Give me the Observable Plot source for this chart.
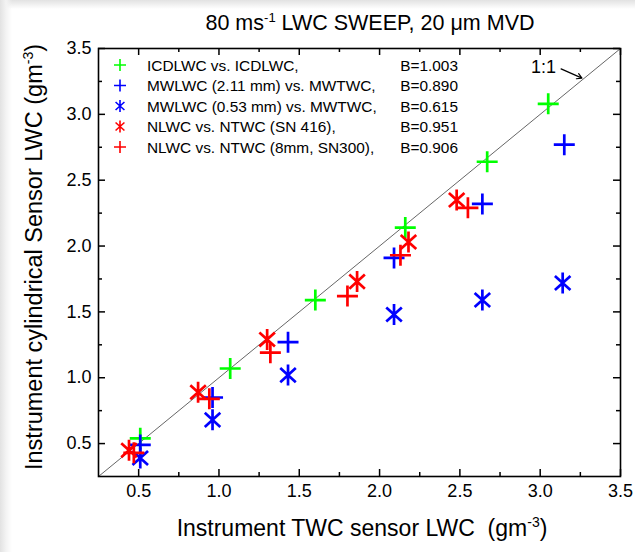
<!DOCTYPE html>
<html><head><meta charset="utf-8">
<script src="https://cdn.jsdelivr.net/npm/d3@7"></script>
<script src="https://cdn.jsdelivr.net/npm/@observablehq/plot@0.6"></script>
<style>
body{margin:0;background:#fff;}
#wrap{position:relative;width:635px;height:552px;overflow:hidden;background:
 linear-gradient(to right, #e2e2e2 0px, #f3f3f3 6px, rgba(255,255,255,0) 12px),
 linear-gradient(to bottom, #e2e2e2 0px, rgba(255,255,255,0) 9px), #fff;}
svg{font-family:"Liberation Sans", Arial, sans-serif;}
</style></head><body><div id="wrap"></div>
<script>
// ---- data ----
const icdX  = [0.51, 1.07, 1.60, 2.16, 2.67, 3.05];
const icdY  = [0.54, 1.07, 1.59, 2.14, 2.64, 3.08];
const mw211X = [0.51, 0.96, 1.43, 2.09, 2.64, 3.15];
const mw211Y = [0.49, 0.85, 1.27, 1.91, 2.32, 2.77];
const mw053X = [0.51, 0.96, 1.43, 2.09, 2.64, 3.14];
const mw053Y = [0.39, 0.68, 1.02, 1.48, 1.59, 1.72];
const n416X = [0.44, 0.87, 1.30, 1.86, 2.18, 2.48];
const n416Y = [0.45, 0.89, 1.29, 1.73, 2.03, 2.35];
const n300X = [0.47, 0.94, 1.32, 1.80, 2.13, 2.55];
const n300Y = [0.43, 0.84, 1.19, 1.62, 1.93, 2.29];

const seriesNames = ["ICDLWC vs. ICDLWC,", "MWLWC (2.11 mm) vs. MWTWC,", "MWLWC (0.53 mm) vs. MWTWC,", "NLWC vs. NTWC (SN 416),", "NLWC vs. NTWC (8mm, SN300),"];
const seriesB = ["B=1.003", "B=0.890", "B=0.615", "B=0.951", "B=0.906"];
const seriesColors = ["#00ff00", "#0000ff", "#0000ff", "#ff0000", "#ff0000"];
const seriesSymbols = ["plus", "plus", "star", "star", "plus"];

const majorTicks = [0.5, 1.0, 1.5, 2.0, 2.5, 3.0, 3.5];
const minorTicks = [0.75, 1.25, 1.75, 2.25, 2.75, 3.25];
const domain = [0.25, 3.5];
const diagonal = [0.25, 3.5];
const oneToOneLabel = {x: 3.02, y: 3.36, text: "1:1"};
const oneToOneArrow = {x1: 3.13, y1: 3.345, x2: 3.26, y2: 3.275};

// ---- symbols ----
const plusSym = {draw(ctx, size){ const r = Math.sqrt(size/Math.PI); ctx.moveTo(-r,0); ctx.lineTo(r,0); ctx.moveTo(0,-r); ctx.lineTo(0,r); }};
const starSym = {draw(ctx, size){ const r = Math.sqrt(size/Math.PI); ctx.moveTo(0,-r); ctx.lineTo(0,r);
  const a = r*0.74, b = r*0.67; ctx.moveTo(-a,-b); ctx.lineTo(a,b); ctx.moveTo(-a,b); ctx.lineTo(a,-b); }};
const symMap = {plus: plusSym, star: starSym};

const seriesXs = [icdX, mw211X, mw053X, n416X, n300X];
const seriesYs = [icdY, mw211Y, mw053Y, n416Y, n300Y];
const pts = (i) => seriesXs[i].map((x, j) => ({x, y: seriesYs[i][j]}));

const W = 635, H = 552, mL = 98, mR = 15, mT = 48, mB = 76;
const fw = W - mL - mR, fh = H - mT - mB;
const majLen = 7, minLen = 4;

const dotMarks = [0,1,2,3,4].map(i => Plot.dot(pts(i), {x: "x", y: "y", r: 10.5, symbol: symMap[seriesSymbols[i]], fill: "none", stroke: seriesColors[i], strokeWidth: 2.7}));

const plot = Plot.plot({
  width: W, height: H,
  marginLeft: mL, marginRight: mR, marginTop: mT, marginBottom: mB,
  x: {domain, label: null},
  y: {domain, label: null},
  style: {fontFamily: '"Liberation Sans", Arial, sans-serif', background: "transparent"},
  marks: [
    Plot.line(diagonal, {x: d => d, y: d => d, stroke: "#666", strokeWidth: 1}),
    ...dotMarks,
    Plot.text([oneToOneLabel], {x: "x", y: "y", text: "text", fontSize: 18, fill: "black"}),
    Plot.arrow([oneToOneArrow], {x1: "x1", y1: "y1", x2: "x2", y2: "y2", stroke: "black", strokeWidth: 1.2, headLength: 7}),
    // ticks inward, all four sides
    Plot.tickX(majorTicks, {x: d => d, insetTop: fh - majLen, stroke: "black", strokeWidth: 1.5}),
    Plot.tickX(minorTicks, {x: d => d, insetTop: fh - minLen, stroke: "black", strokeWidth: 1.5}),
    Plot.tickX(majorTicks, {x: d => d, insetBottom: fh - majLen, stroke: "black", strokeWidth: 1.5}),
    Plot.tickX(minorTicks, {x: d => d, insetBottom: fh - minLen, stroke: "black", strokeWidth: 1.5}),
    Plot.tickY(majorTicks, {y: d => d, insetRight: fw - majLen, stroke: "black", strokeWidth: 1.5}),
    Plot.tickY(minorTicks, {y: d => d, insetRight: fw - minLen, stroke: "black", strokeWidth: 1.5}),
    Plot.tickY(majorTicks, {y: d => d, insetLeft: fw - majLen, stroke: "black", strokeWidth: 1.5}),
    Plot.tickY(minorTicks, {y: d => d, insetLeft: fw - minLen, stroke: "black", strokeWidth: 1.5}),
    Plot.frame({stroke: "black", strokeWidth: 1.6}),
    Plot.axisX(majorTicks, {tickSize: 0, tickPadding: 8, tickFormat: d => d.toFixed(1), fontSize: 18, label: null}),
    Plot.axisY(majorTicks, {tickSize: 0, tickPadding: 7, tickFormat: d => d.toFixed(1), fontSize: 18, label: null})
  ]
});

const svg = d3.select(plot);
// title
const t = svg.append("text").attr("x", 370).attr("y", 30).attr("text-anchor", "middle").attr("font-size", 21.5).attr("fill", "black");
t.append("tspan").text("80 ms");
t.append("tspan").attr("font-size", 13).attr("dy", -8).text("-1");
t.append("tspan").attr("dy", 8).text(" LWC SWEEP, 20 μm MVD");
// x label
const xl = svg.append("text").attr("x", 362).attr("y", 536).attr("text-anchor", "middle").attr("font-size", 23).attr("fill", "black");
xl.append("tspan").text("Instrument TWC sensor LWC  (gm");
xl.append("tspan").attr("font-size", 14).attr("dy", -9).text("-3");
xl.append("tspan").attr("dy", 9).text(")");
// y label
const yl = svg.append("text").attr("transform", "translate(42,257) rotate(-90)").attr("text-anchor", "middle").attr("font-size", 23.5).attr("fill", "black");
yl.append("tspan").text("Instrument cylindrical Sensor LWC (gm");
yl.append("tspan").attr("font-size", 14).attr("dy", -9).text("-3");
yl.append("tspan").attr("dy", 9).text(")");
// legend
const lg = svg.append("g");
const legY0 = 65, legDy = 20.5;
seriesNames.forEach((name, i) => {
  const y = legY0 + i * legDy;
  const p = d3.path(); symMap[seriesSymbols[i]].draw(p, Math.PI * 36);
  lg.append("path").attr("d", p.toString()).attr("transform", `translate(120,${y})`).attr("fill", "none").attr("stroke", seriesColors[i]).attr("stroke-width", 1.6);
  lg.append("text").attr("x", 147).attr("y", y).attr("dy", "0.36em").attr("text-anchor", "start").attr("font-size", 15.4).attr("fill", "black").text(name);
  lg.append("text").attr("x", 458).attr("y", y).attr("dy", "0.36em").attr("text-anchor", "end").attr("font-size", 15.4).attr("fill", "black").text(seriesB[i]);
});

document.getElementById("wrap").appendChild(plot);
</script>
</body></html>
